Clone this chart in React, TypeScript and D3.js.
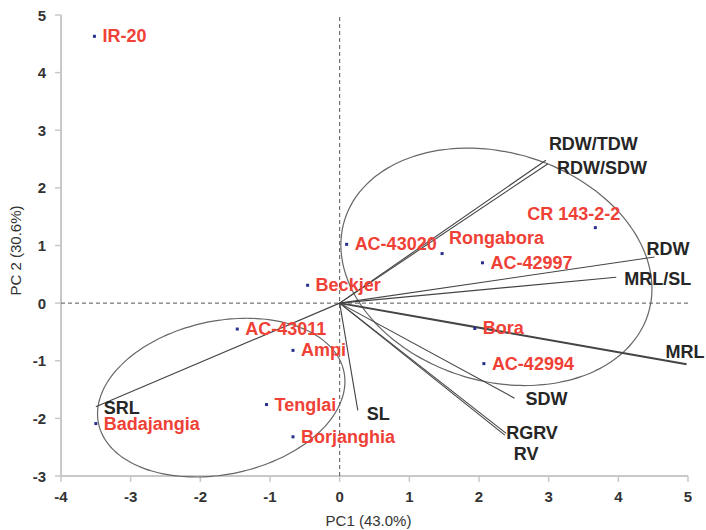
import React from "react";
import * as d3 from "d3";

// Genotype scores (PC1, PC2)
const genotypes = ["IR-20", "AC-43020", "Rongabora", "AC-42997", "CR 143-2-2", "Beckjer", "AC-43011", "Ampi", "Tenglai", "Borjanghia", "Badajangia", "Bora", "AC-42994"];
const genoPC1 = [-3.52, 0.1, 1.47, 2.05, 3.67, -0.46, -1.47, -0.67, -1.05, -0.67, -3.5, 1.94, 2.07];
const genoPC2 = [4.63, 1.02, 0.86, 0.7, 1.31, 0.31, -0.45, -0.82, -1.76, -2.32, -2.09, -0.44, -1.05];

// Variable loadings (scaled)
const variables = ["RDW/TDW", "RDW/SDW", "RDW", "MRL/SL", "MRL", "SDW", "RGRV", "RV", "SL", "SRL"];
const varPC1 = [2.96, 2.99, 4.52, 3.97, 4.98, 2.51, 2.39, 2.37, 0.26, -3.5];
const varPC2 = [2.48, 2.42, 0.8, 0.45, -1.06, -1.65, -2.26, -2.29, -1.86, -1.8];

// Cluster ellipses: centre (PC units), semi-axes (PC1 units), rotation (deg)
const clusterCX = [2.25, -1.7];
const clusterCY = [0.63, -1.64];
const clusterRX = [2.28, 1.8];
const clusterRY = [1.64, 1.1];
const clusterAngle = [17, -12];

// Axis ticks
const xTicks = [-4, -3, -2, -1, 0, 1, 2, 3, 4, 5];
const yTicks = [-3, -2, -1, 0, 1, 2, 3, 4, 5];

// Label layout offsets (pixels)
const genoLabelOffset: Record<string, [number, number]> = {
  "Rongabora": [7, -16],
  "CR 143-2-2": [-68, -14],
};
const varLabelOffset: Record<string, [number, number]> = {
  "RDW/TDW": [3, -16],
  "RDW/SDW": [9, 4],
  "RDW": [-8, -8],
  "MRL/SL": [8, 2],
  "MRL": [-21, -12],
  "SDW": [11, 1],
  "RGRV": [0, 0],
  "RV": [9, 19],
  "SL": [9, 4],
  "SRL": [8, 1],
};

const W = 706;
const H = 530;
const FONT = "'Liberation Sans', Arial, Helvetica, sans-serif";

if (typeof document !== "undefined") {
  document.body.style.margin = "0";
}

export default function App() {
  const x = d3.scaleLinear().domain([-4, 5]).range([61, 688]);
  const y = d3.scaleLinear().domain([-3, 5]).range([476, 15]);
  const unit = x(1) - x(0);

  const ellipsePath = (i: number) => {
    const cx = x(clusterCX[i]);
    const cy = y(clusterCY[i]);
    const a = clusterRX[i] * unit;
    const b = clusterRY[i] * unit;
    const th = (clusterAngle[i] * Math.PI) / 180;
    const pts: [number, number][] = d3.range(0, 361, 3).map((deg) => {
      const t = (deg * Math.PI) / 180;
      return [
        cx + a * Math.cos(t) * Math.cos(th) - b * Math.sin(t) * Math.sin(th),
        cy + a * Math.cos(t) * Math.sin(th) + b * Math.sin(t) * Math.cos(th),
      ];
    });
    return d3.line().curve(d3.curveCardinalClosed)(pts.slice(0, -1)) || "";
  };

  const red = "#ef4136";
  const dark = "#262626";

  return (
    <svg width={W} height={H} style={{ display: "block", background: "#fff" }} fontFamily={FONT}>
      {/* axes */}
      <line x1={x(-4)} x2={x(5)} y1={y(-3)} y2={y(-3)} stroke="#c8c8c8" strokeWidth={2} />
      <line x1={x(-4)} x2={x(-4)} y1={y(-3)} y2={y(5)} stroke="#c8c8c8" strokeWidth={2} />
      {xTicks.map((t) => (
        <g key={"xt" + t}>
          <line x1={x(t)} x2={x(t)} y1={y(-3)} y2={y(-3) + 6} stroke="#c8c8c8" strokeWidth={1.5} />
          <text x={x(t)} y={y(-3) + 20} textAnchor="middle" dominantBaseline="central" fontSize={15} fill="#333" fontWeight="bold">
            {t}
          </text>
        </g>
      ))}
      {yTicks.map((t) => (
        <g key={"yt" + t}>
          <line x1={x(-4) - 6} x2={x(-4)} y1={y(t)} y2={y(t)} stroke="#c8c8c8" strokeWidth={1.5} />
          <text x={x(-4) - 15} y={y(t)} textAnchor="end" dominantBaseline="central" fontSize={15} fill="#333" fontWeight="bold">
            {t}
          </text>
        </g>
      ))}
      <text x={(x(-4) + x(5)) / 2 - 6} y={520} textAnchor="middle" dominantBaseline="central" fontSize={15} fill="#333">
        PC1 (43.0%)
      </text>
      <text transform={`translate(15,${(y(-3) + y(5)) / 2 + 5}) rotate(-90)`} textAnchor="middle" dominantBaseline="central" fontSize={15} fill="#333">
        PC 2 (30.6%)
      </text>

      {/* zero lines */}
      <line x1={x(-4)} x2={x(5)} y1={y(0)} y2={y(0)} stroke="#555" strokeWidth={1} strokeDasharray="4,3" />
      <line x1={x(0)} x2={x(0)} y1={y(-3)} y2={y(5)} stroke="#555" strokeWidth={1} strokeDasharray="4,3" />

      {/* ellipses */}
      {clusterCX.map((_, i) => (
        <path key={"el" + i} d={ellipsePath(i)} fill="none" stroke="#666" strokeWidth={1.2} />
      ))}

      {/* vectors */}
      {variables.map((v, i) => (
        <line key={"vl" + v} x1={x(0)} y1={y(0)} x2={x(varPC1[i])} y2={y(varPC2[i])} stroke="#444" strokeWidth={v === "MRL" ? 2 : 1.1} />
      ))}
      {variables.map((v, i) => {
        const off = varLabelOffset[v] || [8, 0];
        return (
          <text key={"vt" + v} x={x(varPC1[i]) + off[0]} y={y(varPC2[i]) + off[1]} dominantBaseline="central" fontSize={18} fontWeight="bold" fill={dark}>
            {v}
          </text>
        );
      })}

      {/* genotypes */}
      {genotypes.map((g, i) => (
        <rect key={"gp" + g} x={x(genoPC1[i]) - 1.5} y={y(genoPC2[i]) - 1.5} width={3} height={3} fill="#27308f" />
      ))}
      {genotypes.map((g, i) => {
        const off = genoLabelOffset[g] || [8, 0];
        return (
          <text key={"gt" + g} x={x(genoPC1[i]) + off[0]} y={y(genoPC2[i]) + off[1]} dominantBaseline="central" fontSize={18} fontWeight="bold" fill={red}>
            {g}
          </text>
        );
      })}
    </svg>
  );
}
